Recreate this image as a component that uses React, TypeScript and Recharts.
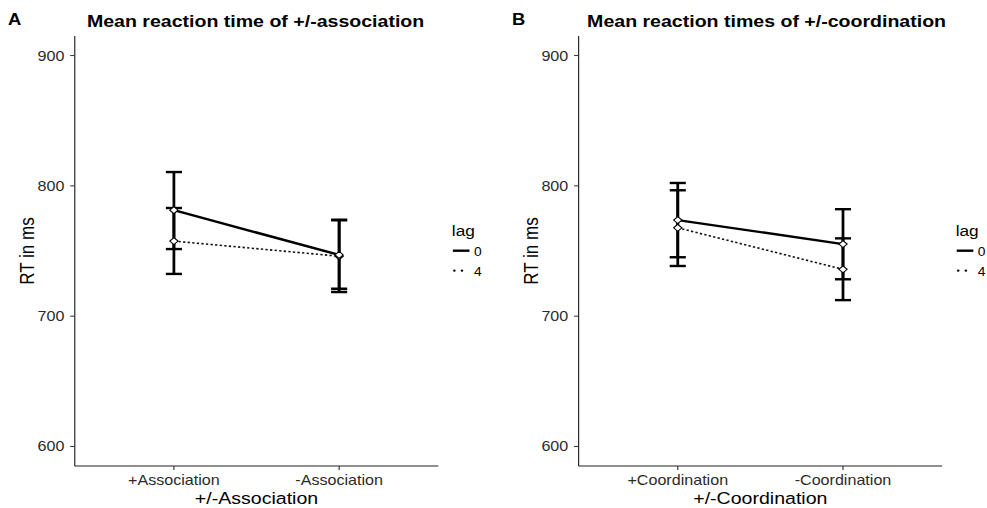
import React from 'react';
import { LineChart, Line, XAxis, YAxis, ErrorBar } from 'recharts';

// values (ms)
const assocCats = ['+Association', '-Association'];
const assocLag0 = [781.3, 747];
const assocLag0Lo = [751.5, 721];
const assocLag0Hi = [810.6, 774];
const assocLag4 = [757.6, 746];
const assocLag4Lo = [732.4, 718.5];
const assocLag4Hi = [783, 773.5];

const coordCats = ['+Coordination', '-Coordination'];
const coordLag0 = [773.7, 755.3];
const coordLag0Lo = [745.2, 728.3];
const coordLag0Hi = [802.2, 782.1];
const coordLag4 = [767.8, 735.9];
const coordLag4Lo = [738.5, 712.3];
const coordLag4Hi = [796.6, 759.7];

const lagLevels = ['0', '4'];
const yTicks = [600, 700, 800, 900];

// the reference is stretched horizontally, so everything is laid out narrower and scaled
const SX = 987 / 858;

function buildRows(m0: number[], lo0: number[], hi0: number[], m4: number[], lo4: number[], hi4: number[]) {
  return m0.map((v, i) => ({
    x: i + 1,
    m0: v,
    e0: [v - lo0[i], hi0[i] - v],
    m4: m4[i],
    e4: [m4[i] - lo4[i], hi4[i] - m4[i]],
  }));
}

const assocRows = buildRows(assocLag0, assocLag0Lo, assocLag0Hi, assocLag4, assocLag4Lo, assocLag4Hi);
const coordRows = buildRows(coordLag0, coordLag0Lo, coordLag0Hi, coordLag4, coordLag4Lo, coordLag4Hi);

const Diamond = (props: any) => {
  const { cx, cy, index } = props;
  if (cx == null || cy == null) return <g key={index} />;
  return (
    <path
      key={index}
      d={`M${cx},${cy - 3.5} L${cx + 3.6},${cy} L${cx},${cy + 3.5} L${cx - 3.6},${cy} Z`}
      fill="#fff"
      stroke="#000"
      strokeWidth={1}
    />
  );
};

function Panel({ rows, cats, xTitle, width, right }: any) {
  return (
    <LineChart width={width} height={508} data={rows} margin={{ top: 36, right, bottom: 0, left: 0 }}>
      <XAxis
        type="number"
        dataKey="x"
        domain={[0.4, 2.6]}
        ticks={[1, 2]}
        allowDataOverflow
        tickFormatter={(v: number) => cats[v - 1]}
        height={42}
        tickSize={4}
        tickMargin={5}
        stroke="#222"
        tickLine={{ stroke: '#333' }}
        tick={{ fill: '#2b2b2b', fontSize: 14 }}
        label={{ value: xTitle, position: 'insideBottom', offset: 4, fontSize: 17, fill: '#000' }}
      />
      <YAxis
        type="number"
        domain={[585, 915]}
        ticks={yTicks}
        allowDataOverflow
        width={65}
        tickSize={4}
        tickMargin={5}
        stroke="#222"
        tickLine={{ stroke: '#333' }}
        tick={{ fill: '#2b2b2b', fontSize: 14 }}
        label={{
          value: 'RT in ms',
          angle: -90,
          position: 'insideLeft',
          offset: 23.5,
          fontSize: 17,
          fill: '#000',
          style: { textAnchor: 'middle' },
        }}
      />
      {/* error bars first so the diamonds sit on top */}
      <Line dataKey="m0" stroke="none" dot={false} activeDot={false} isAnimationActive={false}>
        <ErrorBar dataKey="e0" width={7} strokeWidth={2.4} stroke="#000" direction="y" />
      </Line>
      <Line dataKey="m4" stroke="none" dot={false} activeDot={false} isAnimationActive={false}>
        <ErrorBar dataKey="e4" width={7} strokeWidth={2.4} stroke="#000" direction="y" />
      </Line>
      <Line
        dataKey="m4"
        type="linear"
        stroke="#111"
        strokeWidth={1.6}
        strokeDasharray="2 2"
        dot={Diamond}
        activeDot={false}
        isAnimationActive={false}
      />
      <Line
        dataKey="m0"
        type="linear"
        stroke="#000"
        strokeWidth={2.4}
        dot={Diamond}
        activeDot={false}
        isAnimationActive={false}
      />
    </LineChart>
  );
}

function LagLegend({ ox }: { ox: number }) {
  return (
    <g>
      <text x={ox + 392.8} y={236} fontSize={15} fill="#000">lag</text>
      <line x1={ox + 393.7} x2={ox + 408.1} y1={250.7} y2={250.7} stroke="#000" strokeWidth={2.4} />
      <text x={ox + 412} y={256} fontSize={12} fill="#000">{lagLevels[0]}</text>
      <circle cx={ox + 395} cy={270.7} r={1.1} fill="#000" />
      <circle cx={ox + 401.6} cy={270.7} r={1.1} fill="#000" />
      <text x={ox + 412} y={276} fontSize={12} fill="#000">{lagLevels[1]}</text>
    </g>
  );
}

export default function App() {
  return (
    <div style={{ position: 'absolute', left: 0, top: 0, width: 987, height: 508, overflow: 'hidden', background: '#fff' }}>
      <div
        style={{
          position: 'relative',
          width: 858,
          height: 508,
          transform: `scaleX(${SX})`,
          transformOrigin: '0 0',
          fontFamily: '"Liberation Sans", Arial, sans-serif',
        }}
      >
        <div style={{ position: 'absolute', left: 0, top: 0 }}>
          <Panel rows={assocRows} cats={assocCats} xTitle="+/-Association" width={430} right={49} />
        </div>
        <div style={{ position: 'absolute', left: 438, top: 0 }}>
          <Panel rows={coordRows} cats={coordCats} xTitle="+/-Coordination" width={420} right={39} />
        </div>
        <svg width={858} height={508} style={{ position: 'absolute', left: 0, top: 0, pointerEvents: 'none' }}>
          <text x={7} y={25} fontSize={16} fontWeight="bold" fill="#000">A</text>
          <text x={75.6} y={27} fontSize={17} fontWeight="bold" fill="#000">Mean reaction time of +/-association</text>
          <text x={445} y={25} fontSize={16} fontWeight="bold" fill="#000">B</text>
          <text x={510.4} y={27} fontSize={17} fontWeight="bold" fill="#000">Mean reaction times of +/-coordination</text>
          <LagLegend ox={0} />
          <LagLegend ox={438} />
        </svg>
      </div>
    </div>
  );
}
